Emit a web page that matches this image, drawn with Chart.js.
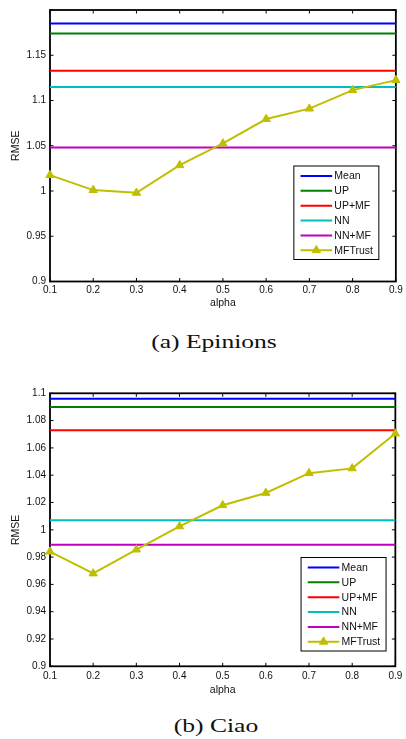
<!DOCTYPE html>
<html><head><meta charset="utf-8">
<script src="https://cdn.jsdelivr.net/npm/chart.js@4"></script>
<style>
html,body{margin:0;padding:0;background:#fff;}
body{width:406px;height:739px;position:relative;overflow:hidden;}
.wrap{position:absolute;left:0;width:406px;}
.cap{position:absolute;font-family:'Liberation Serif','Times New Roman',serif;font-size:18px;line-height:18px;white-space:nowrap;color:#111;transform:translateX(-50%) scaleX(1.42);}
</style></head><body>
<div class="wrap" style="top:0;height:315px"><canvas id="c1"></canvas></div>
<div class="cap" style="left:213.5px;top:333px">(a) Epinions</div>
<div class="wrap" style="top:375px;height:325px"><canvas id="c2"></canvas></div>
<div class="cap" style="left:215.5px;top:716.5px">(b) Ciao</div>
<script>
// ---- data ----
const alpha = [0.1, 0.2, 0.3, 0.4, 0.5, 0.6, 0.7, 0.8, 0.9];
const xTickLabels = ['0.1', '0.2', '0.3', '0.4', '0.5', '0.6', '0.7', '0.8', '0.9'];
const methods = ['Mean', 'UP', 'UP+MF', 'NN', 'NN+MF', 'MFTrust'];

const epinionsBaselines = [1.185, 1.174, 1.133, 1.115, 1.048];
const epinionsMFTrust = [1.0175, 1.001, 0.998, 1.0285, 1.0525, 1.0795, 1.091, 1.1115, 1.1225];
const epinionsYTicks = [0.9, 0.95, 1.0, 1.05, 1.1, 1.15, 1.2];
const epinionsYLabels = ['0.9', '0.95', '1', '1.05', '1.1', '1.15', ''];

const ciaoBaselines = [1.096, 1.090, 1.073, 1.007, 0.989];
const ciaoMFTrust = [0.984, 0.968, 0.9855, 1.0025, 1.018, 1.027, 1.0415, 1.045, 1.0705];
const ciaoYTicks = [0.9, 0.92, 0.94, 0.96, 0.98, 1.0, 1.02, 1.04, 1.06, 1.08, 1.1];
const ciaoYLabels = ['0.9', '0.92', '0.94', '0.96', '0.98', '1', '1.02', '1.04', '1.06', '1.08', '1.1'];

const colors = ['rgb(0,0,255)', 'rgb(0,128,0)', 'rgb(255,0,0)', 'rgb(0,191,191)', 'rgb(191,0,191)', 'rgb(191,191,0)'];

// ---- plugins ----
const frame = {
  id: 'frame',
  beforeDatasetsDraw(chart) {
    const {ctx, chartArea: a, scales: {x, y}} = chart;
    ctx.save();
    ctx.strokeStyle = '#000';
    ctx.lineWidth = 1;
    const tl = 3.5;
    ctx.beginPath();
    x.ticks.forEach(t => {
      const px = x.getPixelForValue(t.value);
      ctx.moveTo(px, a.bottom); ctx.lineTo(px, a.bottom - tl);
      ctx.moveTo(px, a.top); ctx.lineTo(px, a.top + tl);
    });
    y.ticks.forEach(t => {
      const py = y.getPixelForValue(t.value);
      ctx.moveTo(a.left, py); ctx.lineTo(a.left + tl, py);
      ctx.moveTo(a.right, py); ctx.lineTo(a.right - tl, py);
    });
    ctx.stroke();
    ctx.lineWidth = 1.8;
    ctx.strokeRect(a.left, a.top, a.right - a.left, a.bottom - a.top);
    ctx.restore();
  }
};

const boxLegend = {
  id: 'boxLegend',
  afterDraw(chart, args, opts) {
    const {ctx, chartArea: a} = chart;
    const w = 85, h = 93.5;
    const left = a.right - opts.right - w, top = a.bottom - opts.bottom - h;
    ctx.save();
    ctx.fillStyle = '#fff';
    ctx.fillRect(left, top, w, h);
    ctx.strokeStyle = '#000';
    ctx.lineWidth = 1;
    ctx.strokeRect(left, top, w, h);
    ctx.font = '10.5px "Liberation Sans", Arial, sans-serif';
    ctx.textBaseline = 'middle';
    ctx.textAlign = 'left';
    chart.data.datasets.forEach((ds, i) => {
      const cy = top + 10 + i * 14.85;
      ctx.strokeStyle = ds.borderColor;
      ctx.lineWidth = 2;
      ctx.beginPath();
      ctx.moveTo(left + 6.7, cy);
      ctx.lineTo(left + 38.3, cy);
      ctx.stroke();
      if (ds.pointRadius > 0) {
        ctx.fillStyle = ds.pointBackgroundColor;
        ctx.strokeStyle = ds.borderColor;
        ctx.lineWidth = ds.pointBorderWidth;
        Chart.helpers.drawPoint(ctx, {pointStyle: 'triangle', radius: ds.pointRadius, borderWidth: ds.pointBorderWidth, rotation: 0}, left + 22.5, cy);
      }
      ctx.fillStyle = '#111';
      ctx.fillText(ds.label, left + 40.5, cy + 0.5);
    });
    ctx.restore();
  }
};

const tickFont = {family: '"Liberation Sans", Arial, sans-serif', size: 10};
const titleFont = {family: '"Liberation Sans", Arial, sans-serif', size: 10.5};

function makeChart(id, baselines, trust, yTicks, yLabels, p) {
  const datasets = baselines.map((v, i) => ({
    label: methods[i],
    data: alpha.map(a => ({x: a, y: v})),
    borderColor: colors[i],
    backgroundColor: colors[i],
    borderWidth: 2,
    pointRadius: 0,
    pointHoverRadius: 0,
    order: 1,
    clip: false
  }));
  datasets.push({
    label: methods[5],
    data: alpha.map((a, i) => ({x: a, y: trust[i]})),
    borderColor: colors[5],
    backgroundColor: colors[5],
    pointBackgroundColor: colors[5],
    pointBorderColor: colors[5],
    borderWidth: 2,
    pointStyle: 'triangle',
    pointRadius: 4.8,
    pointBorderWidth: 1,
    order: 0,
    clip: false
  });
  return new Chart(document.getElementById(id), {
    type: 'line',
    data: {datasets},
    plugins: [frame, boxLegend],
    options: {
      responsive: true,
      maintainAspectRatio: false,
      animation: false,
      events: [],
      layout: {padding: {top: p.top, right: 9, left: 0, bottom: 0}},
      plugins: {
        legend: {display: false},
        tooltip: {enabled: false},
        boxLegend: {right: p.legRight, bottom: p.legBottom}
      },
      scales: {
        x: {
          type: 'linear', min: alpha[0], max: alpha[alpha.length - 1],
          afterBuildTicks: s => { s.ticks = alpha.map(v => ({value: v})); },
          afterFit: s => { s.height = p.xh; },
          ticks: {autoSkip: false, maxRotation: 0, padding: p.xpad, color: '#111', font: tickFont,
                  callback: (v, i) => xTickLabels[i]},
          grid: {display: false, drawTicks: false},
          border: {display: false},
          title: {display: true, text: 'alpha', color: '#111', font: titleFont, padding: {top: 0, bottom: p.tpad}}
        },
        y: {
          type: 'linear', min: yTicks[0], max: yTicks[yTicks.length - 1],
          afterBuildTicks: s => { s.ticks = yTicks.map(v => ({value: v})); },
          afterFit: s => { s.width = 50; },
          ticks: {autoSkip: false, padding: 4, color: '#111', font: tickFont,
                  callback: (v, i) => yLabels[i]},
          grid: {display: false, drawTicks: false},
          border: {display: false},
          title: {display: true, text: 'RMSE', color: '#111', font: titleFont, padding: {top: 9.5, bottom: 0}}
        }
      }
    }
  });
}

makeChart('c1', epinionsBaselines, epinionsMFTrust, epinionsYTicks, epinionsYLabels,
  {top: 7, xh: 33.5, xpad: 3.2, tpad: 5.5, legRight: 17, legBottom: 22});
makeChart('c2', ciaoBaselines, ciaoMFTrust, ciaoYTicks, ciaoYLabels,
  {top: 18.3, xh: 33.7, xpad: 3.7, tpad: 4, legRight: 9.3, legBottom: 15.3});
</script>
</body></html>
